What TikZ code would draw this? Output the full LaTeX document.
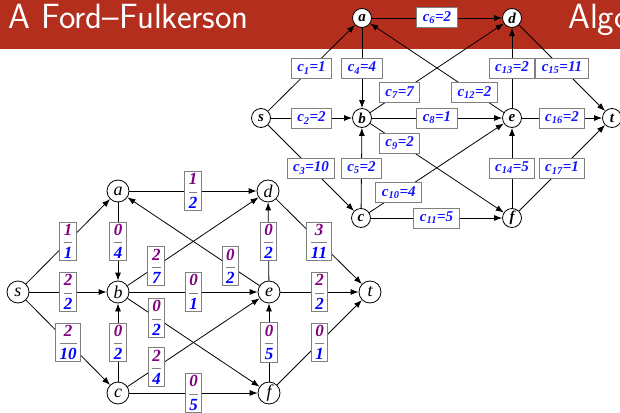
\documentclass[tikz,border=0pt]{standalone}
\usepackage{amsmath}
\usepackage{fontspec}
\setmainfont{Liberation Serif}
\usetikzlibrary{arrows.meta}
\definecolor{titlered}{RGB}{180,46,30}
\definecolor{fnum}{RGB}{128,0,128}
\definecolor{fden}{RGB}{0,0,255}
\definecolor{capblue}{RGB}{20,20,255}
\definecolor{boxgray}{RGB}{128,128,128}
\newcommand\capl[2]{c\textsubscript{#1}=#2}
\newcommand\flw[2]{$\dfrac{\textcolor{fnum}{\text{#1}}}{\textcolor{fden}{\text{#2}}}$}
\begin{document}
\begin{tikzpicture}[x=1pt,y=-1pt,
  tnode/.style={circle,draw,fill=white,line width=0.8pt,minimum size=19pt,inner sep=0pt,font=\fontsize{15}{15}\selectfont\bfseries\itshape},
  bnode/.style={circle,draw,fill=white,line width=0.8pt,minimum size=22pt,inner sep=0pt,font=\fontsize{18}{18}\selectfont\itshape},
  flowarrow/.style={line width=0.8pt,-{Latex[length=8pt,width=6pt]}},
  caplab/.style={draw=boxgray,line width=1pt,fill=white,text=capblue,font=\fontsize{15}{18}\selectfont\bfseries\itshape,inner xsep=6pt,inner ysep=2pt,minimum height=20pt},
  flowlab/.style={draw=boxgray,line width=1pt,fill=white,text=boxgray,font=\fontsize{17}{20}\selectfont\bfseries\itshape,inner xsep=3pt,inner ysep=2pt},
  titletext/.style={text=white,font=\sffamily\fontsize{35}{40}\selectfont,inner sep=0pt}
]
\useasboundingbox (0,0) rectangle (620,412);
\clip (0,0) rectangle (620,412);
\fill[titlered] (0,0) rectangle (620,49);
\node[titletext,anchor=base east] (title1) at (249,29) {A Ford–Fulkerson};
\node[titletext,anchor=base west] (title2) at (568,29) {Algo};

% top graph
\node[tnode] (Ta) at (362,18) {a};
\node[tnode] (Td) at (512,18) {d};
\node[tnode] (Ts) at (261,118) {s};
\node[tnode] (Tb) at (362,118) {b};
\node[tnode] (Te) at (512,118) {e};
\node[tnode] (Tt) at (612,118) {t};
\node[tnode] (Tc) at (361,218) {c};
\node[tnode] (Tf) at (512,218) {f};

\draw[flowarrow] (Ts) -- node[caplab]{\capl{1}{1}} (Ta);
\draw[flowarrow] (Ts) -- node[caplab]{\capl{2}{2}} (Tb);
\draw[flowarrow] (Ts) -- node[caplab]{\capl{3}{10}} (Tc);
\draw[flowarrow] (Ta) -- node[caplab]{\capl{4}{4}} (Tb);
\draw[flowarrow] (Tc) -- node[caplab]{\capl{5}{2}} (Tb);
\draw[flowarrow] (Ta) -- node[caplab]{\capl{6}{2}} (Td);
\draw[flowarrow] (Tb) -- node[caplab,pos=0.22]{\capl{7}{7}} (Td);
\draw[flowarrow] (Tb) -- node[caplab]{\capl{8}{1}} (Te);
\draw[flowarrow] (Tb) -- node[caplab,pos=0.22]{\capl{9}{2}} (Tf);
\draw[flowarrow] (Tc) -- node[caplab,pos=0.22]{\capl{10}{4}} (Te);
\draw[flowarrow] (Tc) -- node[caplab]{\capl{11}{5}} (Tf);
\draw[flowarrow] (Te) -- node[caplab,pos=0.22]{\capl{12}{2}} (Ta);
\draw[flowarrow] (Te) -- node[caplab]{\capl{13}{2}} (Td);
\draw[flowarrow] (Tf) -- node[caplab]{\capl{14}{5}} (Te);
\draw[flowarrow] (Td) -- node[caplab]{\capl{15}{11}} (Tt);
\draw[flowarrow] (Te) -- node[caplab]{\capl{16}{2}} (Tt);
\draw[flowarrow] (Tf) -- node[caplab]{\capl{17}{1}} (Tt);

% bottom graph
\node[bnode] (Ba) at (118,191) {a};
\node[bnode] (Bd) at (268,191) {d};
\node[bnode] (Bs) at (18,292) {s};
\node[bnode] (Bb) at (118,292) {b};
\node[bnode] (Be) at (269,292) {e};
\node[bnode] (Bt) at (370,292) {t};
\node[bnode] (Bc) at (118,393) {c};
\node[bnode] (Bf) at (269,393) {f};

\draw[flowarrow] (Bs) -- node[flowlab]{\flw{1}{1}} (Ba);
\draw[flowarrow] (Bs) -- node[flowlab]{\flw{2}{2}} (Bb);
\draw[flowarrow] (Bs) -- node[flowlab]{\flw{2}{10}} (Bc);
\draw[flowarrow] (Ba) -- node[flowlab]{\flw{0}{4}} (Bb);
\draw[flowarrow] (Bc) -- node[flowlab]{\flw{0}{2}} (Bb);
\draw[flowarrow] (Ba) -- node[flowlab]{\flw{1}{2}} (Bd);
\draw[flowarrow] (Bb) -- node[flowlab,pos=0.22]{\flw{2}{7}} (Bd);
\draw[flowarrow] (Bb) -- node[flowlab]{\flw{0}{1}} (Be);
\draw[flowarrow] (Bb) -- node[flowlab,pos=0.22]{\flw{0}{2}} (Bf);
\draw[flowarrow] (Bc) -- node[flowlab,pos=0.22]{\flw{2}{4}} (Be);
\draw[flowarrow] (Bc) -- node[flowlab]{\flw{0}{5}} (Bf);
\draw[flowarrow] (Be) -- node[flowlab,pos=0.22]{\flw{0}{2}} (Ba);
\draw[flowarrow] (Be) -- node[flowlab]{\flw{0}{2}} (Bd);
\draw[flowarrow] (Bf) -- node[flowlab]{\flw{0}{5}} (Be);
\draw[flowarrow] (Bd) -- node[flowlab]{\flw{3}{11}} (Bt);
\draw[flowarrow] (Be) -- node[flowlab]{\flw{2}{2}} (Bt);
\draw[flowarrow] (Bf) -- node[flowlab]{\flw{0}{1}} (Bt);
\end{tikzpicture}
\end{document}
